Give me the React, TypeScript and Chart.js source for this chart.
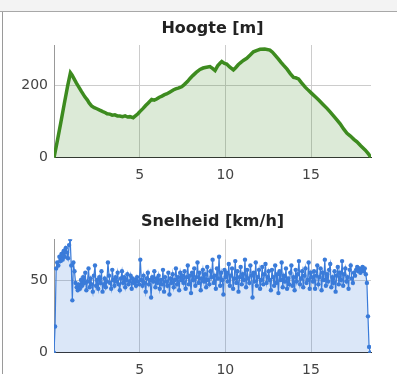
import React, { useEffect, useRef } from "react";
import { Chart, registerables } from "chart.js";

Chart.register(...registerables);

// ---------- data ----------
const ELEV_TITLE = "Hoogte [m]";
const SPEED_TITLE = "Snelheid [km/h]";

const X_TICKS = [5, 10, 15];
const X_MAX = 18.5;
const ELEV_Y_TICKS = [0, 200];
const ELEV_Y_MAX = 313;
const SPEED_Y_TICKS = [0, 50];
const SPEED_Y_MAX = 78;

const ELEV_KM = [
  0.0, 0.2, 0.4, 0.6, 0.8, 0.96, 1.05, 1.15, 1.31, 1.45, 1.6, 1.8, 1.95, 2.05, 2.19, 2.35, 2.5, 2.67, 2.85, 3.0,
  3.1, 3.26, 3.4, 3.55, 3.7, 3.84, 4.0, 4.15, 4.3, 4.43, 4.62, 4.75, 4.9, 5.01, 5.2, 5.35, 5.5, 5.7, 5.85, 5.99,
  6.15, 6.3, 6.45, 6.57, 6.75, 6.96, 7.1, 7.25, 7.45, 7.6, 7.8, 7.94, 8.1, 8.3, 8.52, 8.7, 8.9, 9.1, 9.25, 9.4,
  9.55, 9.7, 9.79, 9.95, 10.08, 10.25, 10.47, 10.6, 10.75, 10.86, 11.05, 11.25, 11.45, 11.64, 11.85, 12.03, 12.3,
  12.6, 12.75, 12.9, 13.1, 13.25, 13.39, 13.6, 13.8, 13.98, 14.1, 14.27, 14.45, 14.66, 14.85, 15.05, 15.25, 15.45,
  15.7, 15.93, 16.1, 16.3, 16.51, 16.7, 16.9, 17.1, 17.3, 17.5, 17.68, 17.9, 18.17, 18.35, 18.5,
];
const ELEV_M = [
  0, 48, 98, 150, 200, 236, 230, 221, 207, 196, 184, 169, 160, 152, 144, 139, 136, 132, 128, 125,
  122, 121, 118, 119, 116, 116, 114, 116, 113, 114, 111, 116, 122, 128, 137, 145, 152, 162, 160, 163,
  168, 171, 175, 177, 182, 188, 191, 193, 197, 203, 212, 220, 228, 237, 245, 249, 251, 253, 248, 242,
  255, 263, 267, 262, 260, 252, 244, 250, 258, 263, 270, 276, 285, 294, 298, 301, 302,
  299, 293, 285, 274, 265, 257, 246, 233, 223, 222, 219, 208, 196, 187, 178, 169, 160,
  148, 137, 128, 117, 105, 94, 80, 68, 60, 51, 44, 33, 21, 11, 0,
];

const SPEED_END_KM = 18.45;
const SPEED_KMH = [
  0, 18, 58, 62, 60, 66, 63, 68, 64, 70, 66, 72, 69, 65, 74, 78, 60, 36,
  62, 56, 48, 45, 43, 47, 44, 50, 46, 52, 48, 55, 43, 49, 58, 45, 51, 47, 42, 53, 60, 46,
  50, 44, 52, 48, 56, 42, 47, 51, 45, 49, 62, 53, 48, 44, 57, 50, 46, 52, 49, 55, 47, 43, 51, 56, 48, 52, 45, 50, 54, 47, 49, 53, 44, 51, 48, 50, 46, 52, 49, 47,
  64, 50, 46, 53, 48, 42, 51, 55, 47, 50, 38, 52, 49, 56, 45, 51, 48, 53, 44, 50, 47, 57, 42, 52, 49, 46, 55, 40, 51, 48, 54, 45, 50, 58, 47, 52, 43, 55, 50, 53,
  48, 56, 44, 52, 60, 47, 53, 41, 55, 50, 58, 46, 52, 62, 48, 55, 43, 51, 57, 49, 54, 45, 59, 50, 47, 56, 52, 64, 48, 53, 44, 58, 51, 66, 46, 55, 50, 40, 57, 52,
  55, 49, 61, 46, 53, 58, 44, 51, 63, 48, 56, 42, 52, 59, 47, 54, 50, 64, 45, 57, 51, 48, 60, 53, 38, 55, 49, 62, 46, 52, 57, 44, 50, 59, 47, 54, 61, 48, 52, 56,
  50, 43, 57, 52, 46, 60, 48, 54, 41, 56, 50, 62, 45, 53, 49, 58, 44, 51, 47, 55, 60, 46, 52, 43, 57, 49, 54, 63, 47, 51, 56, 45, 53, 58, 48, 50, 62, 44, 55, 52,
  49, 56, 44, 53, 60, 47, 52, 58, 43, 55, 50, 64, 46, 54, 49, 57, 61, 45, 52, 48, 56, 42, 53, 59, 47, 55, 50, 63, 46, 54, 58, 49, 52, 44, 57, 60, 51, 48, 55, 53,
  57, 59, 56, 58, 55, 57, 59, 56, 58, 54, 48, 25, 4, 0,
];

// ---------- styling ----------
const FONT = "'DejaVu Sans', 'Liberation Sans', Arial, sans-serif";
const GRID = "#cccccc";
const TICK_COLOR = "#444444";

function titlePlugin(text: string, baseline: number) {
  return {
    id: "fixedTitle",
    afterDraw(chart: any) {
      const { ctx, chartArea } = chart;
      ctx.save();
      ctx.font = `bold 16px ${FONT}`;
      ctx.fillStyle = "#222222";
      ctx.textAlign = "center";
      ctx.textBaseline = "alphabetic";
      ctx.fillText(text, (chartArea.left + chartArea.right) / 2, baseline);
      ctx.restore();
    },
  };
}

function makeOptions(yTicks: number[], yMax: number, padTop: number, xAxisHeight: number) {
  return {
    responsive: false,
    animation: false as const,
    devicePixelRatio: 1,
    layout: { padding: { top: padTop, right: 26, left: 0, bottom: 0 } },
    plugins: { legend: { display: false }, title: { display: false }, tooltip: { enabled: false } },
    scales: {
      x: {
        type: "linear" as const,
        min: 0,
        max: X_MAX,
        afterBuildTicks: (s: any) => {
          s.ticks = X_TICKS.map((v) => ({ value: v }));
        },
        afterFit: (s: any) => {
          s.height = xAxisHeight;
        },
        grid: { color: GRID, drawTicks: false, lineWidth: 1 },
        border: { display: true, color: "#333333", width: 1 },
        ticks: { padding: 9, color: TICK_COLOR, font: { family: FONT, size: 14 }, maxRotation: 0, autoSkip: false },
      },
      y: {
        type: "linear" as const,
        min: 0,
        max: yMax,
        afterBuildTicks: (s: any) => {
          s.ticks = yTicks.map((v) => ({ value: v }));
        },
        afterFit: (s: any) => {
          s.width = 54;
        },
        grid: { color: GRID, drawTicks: false, lineWidth: 1 },
        border: { display: true, color: "#999999", width: 1 },
        ticks: { padding: 6, color: TICK_COLOR, font: { family: FONT, size: 14 }, autoSkip: false },
      },
    },
  };
}

function ElevationChart() {
  const ref = useRef<HTMLCanvasElement | null>(null);
  useEffect(() => {
    if (!ref.current) return;
    const data = ELEV_KM.map((km, i) => ({ x: km, y: ELEV_M[i] }));
    const chart = new Chart(ref.current, {
      type: "line",
      data: {
        datasets: [
          {
            data,
            borderColor: "#3d8b1f",
            backgroundColor: "rgba(61,139,31,0.18)",
            borderWidth: 3.5,
            pointRadius: 0,
            fill: "origin",
            tension: 0,
          },
        ],
      },
      options: makeOptions(ELEV_Y_TICKS, ELEV_Y_MAX, 45, 190 - 157.7) as any,
      plugins: [titlePlugin(ELEV_TITLE, 32.5)],
    });
    return () => chart.destroy();
  }, []);
  return (
    <canvas
      ref={ref}
      width={397}
      height={190}
      style={{ position: "absolute", left: 0, top: 0, width: 397, height: 190, display: "block" }}
    />
  );
}

function SpeedChart() {
  const ref = useRef<HTMLCanvasElement | null>(null);
  useEffect(() => {
    if (!ref.current) return;
    const n = SPEED_KMH.length;
    const data = SPEED_KMH.map((v, i) => ({ x: (i * SPEED_END_KM) / (n - 1), y: v }));
    const chart = new Chart(ref.current, {
      type: "line",
      data: {
        datasets: [
          {
            data,
            borderColor: "#3a7bd9",
            backgroundColor: "rgba(58,123,217,0.18)",
            pointBackgroundColor: "#3a7bd9",
            pointBorderColor: "#3a7bd9",
            borderWidth: 1.2,
            pointRadius: 2.2,
            pointBorderWidth: 0,
            fill: "origin",
            tension: 0,
          },
        ],
      },
      options: makeOptions(SPEED_Y_TICKS, SPEED_Y_MAX, 49.3, 210 - 162.7) as any,
      plugins: [titlePlugin(SPEED_TITLE, 35.5)],
    });
    return () => chart.destroy();
  }, []);
  return (
    <canvas
      ref={ref}
      width={397}
      height={210}
      style={{ position: "absolute", left: 0, top: 190, width: 397, height: 210, display: "block" }}
    />
  );
}

export default function App() {
  return (
    <div
      style={{
        position: "absolute",
        left: 0,
        top: 0,
        width: 397,
        height: 374,
        overflow: "hidden",
        background: "#ffffff",
      }}
    >
      <div style={{ position: "absolute", left: 0, top: 0, width: 397, height: 11, background: "#f3f3f3", borderBottom: "1px solid #a8a8a8" }} />
      <div style={{ position: "absolute", left: 2, top: 12, width: 1, height: 362, background: "#9a9a9a" }} />
      <ElevationChart />
      <SpeedChart />
    </div>
  );
}
